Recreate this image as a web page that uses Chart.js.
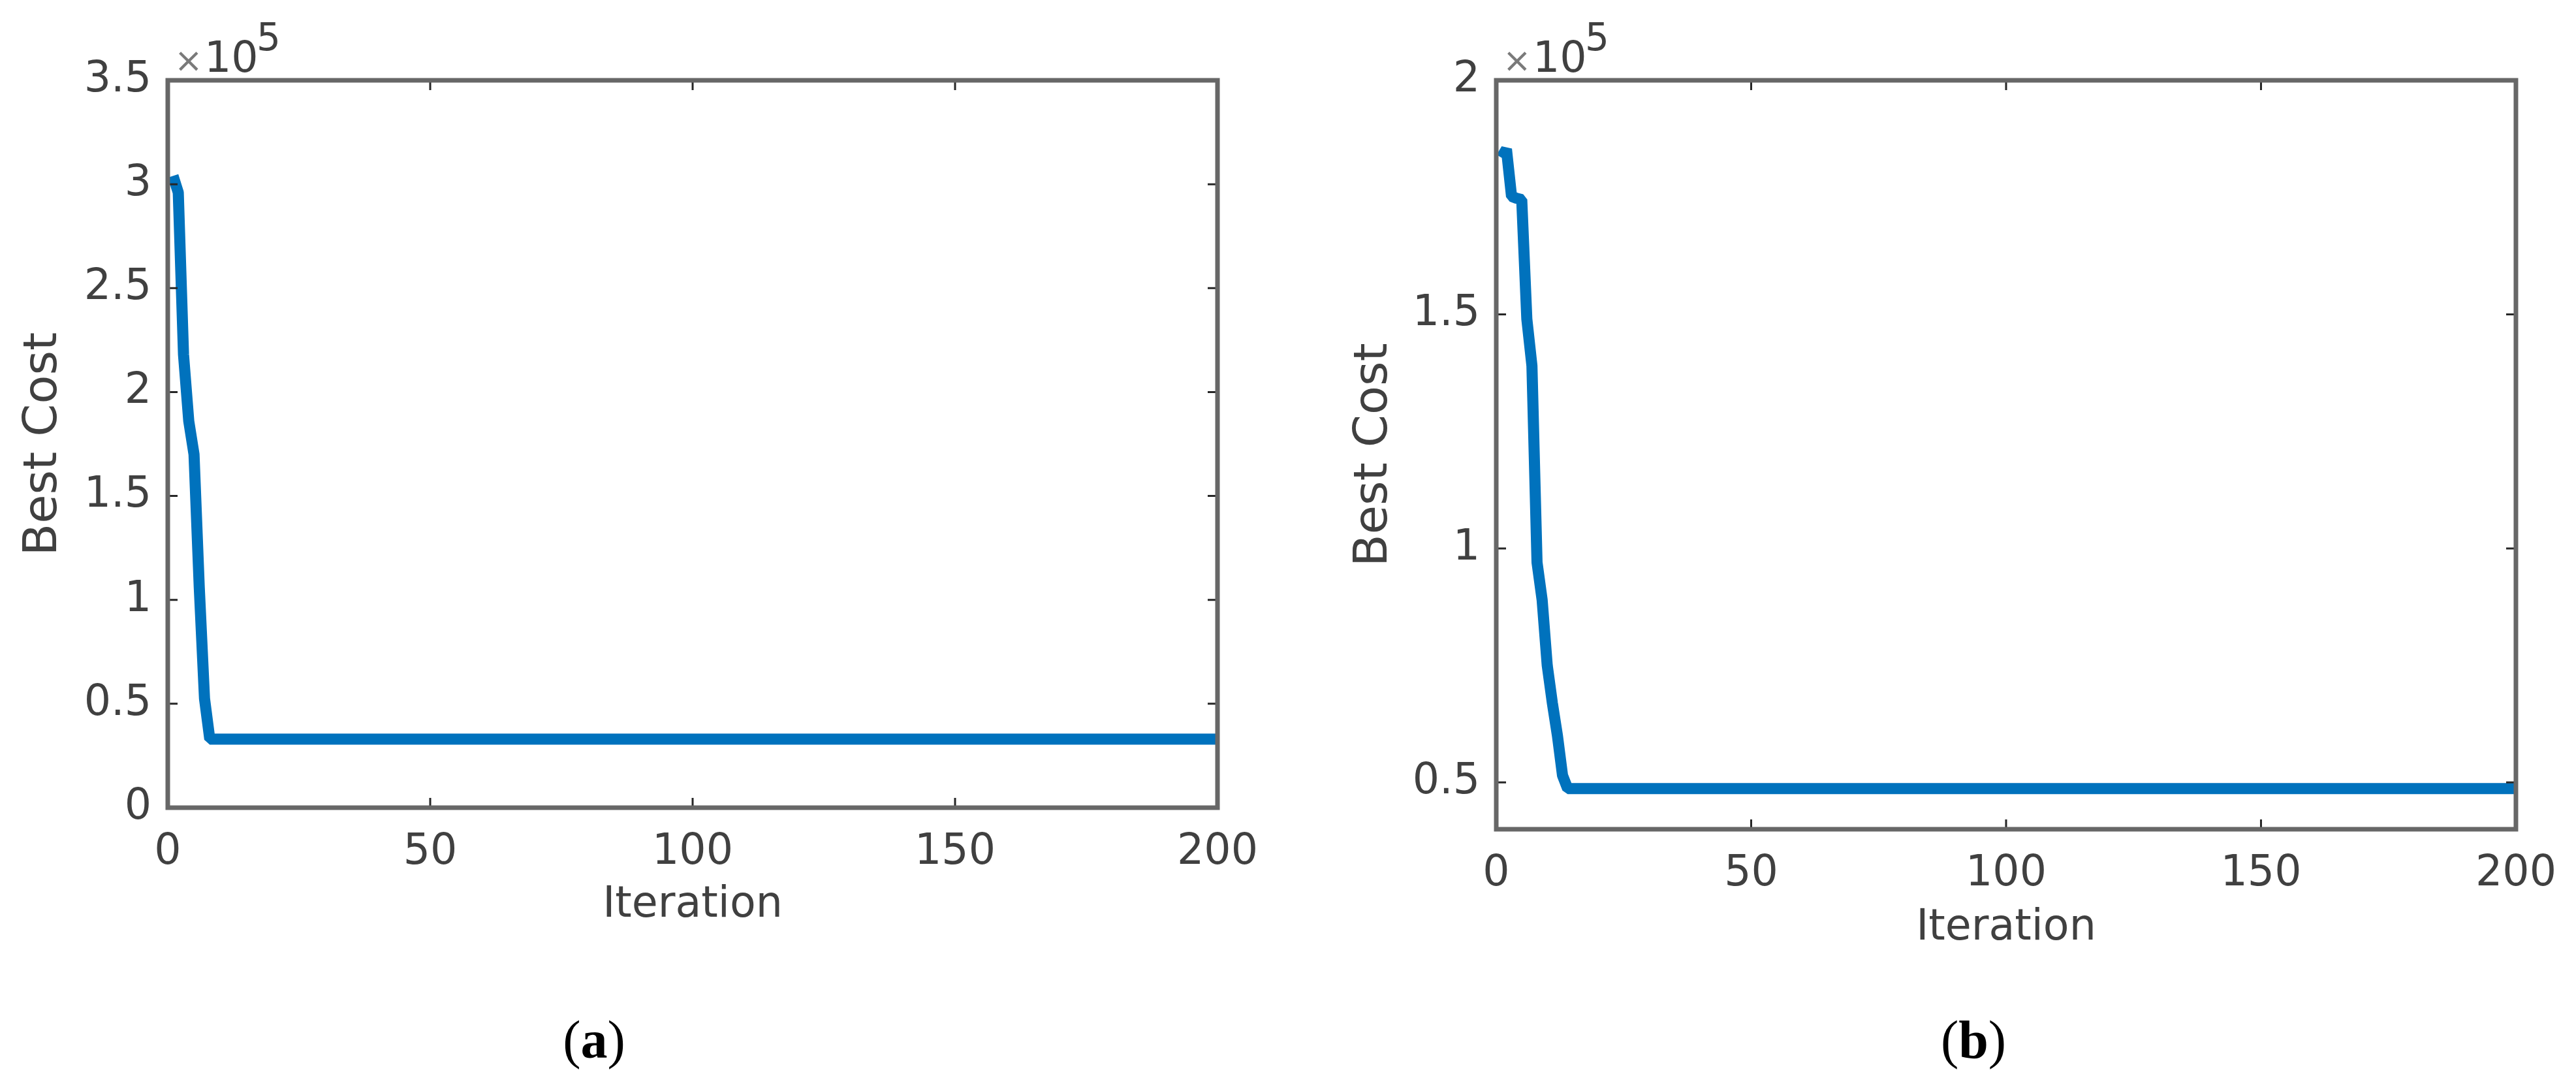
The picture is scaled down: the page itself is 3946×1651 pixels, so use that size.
<!DOCTYPE html>
<html>
<head>
<meta charset="utf-8">
<script src="https://cdn.jsdelivr.net/npm/chart.js@4.4.1/dist/chart.umd.min.js"></script>
<style>
  html, body { margin: 0; padding: 0; background: #fff; }
  body { width: 3946px; height: 1651px; position: relative; overflow: hidden; }
  canvas { position: absolute; top: 0; }
  .panel-tag {
    position: absolute;
    font-family: 'Liberation Serif', 'Times New Roman', serif;
    font-size: 82px;
    line-height: 1;
    color: #000;
    transform: translate(-50%, -50%);
  }
</style>
</head>
<body>
<canvas id="costA" width="1973" height="1651" style="left:0"></canvas>
<canvas id="costB" width="1973" height="1651" style="left:1973px"></canvas>
<div class="panel-tag" style="left:910px;top:1593px">(<b>a</b>)</div>
<div class="panel-tag" style="left:3023px;top:1593px">(<b>b</b>)</div>

<script>
// best cost per iteration, only where it changes (flat afterwards up to 200)
const iterA = [1, 2, 3, 4, 5, 6, 7, 8, 200];
const costA = [304000, 296000, 218000, 186000, 170000, 106000, 52500, 33000, 33000];

const iterB = [1, 2, 3, 4, 5, 6, 7, 8, 9, 10, 11, 12, 13, 14, 200];
const costB = [183500, 185300, 175200, 174800, 174500, 149000, 139000, 97000, 89000, 75000, 67000, 60000, 51500, 48700, 48700];

const xTicks = [0, 50, 100, 150, 200];
const yTicksA = [0, 50000, 100000, 150000, 200000, 250000, 300000, 350000];
const yTicksB = [50000, 100000, 150000, 200000];

const TEXT = '#404040';
const FONT = "'DejaVu Sans', sans-serif";

// MATLAB-like box: full frame, inward ticks on all four sides, x10^5 exponent
const matlabBox = {
    id: 'matlabBox',
    afterDatasetsDraw(chart, args, opts) {
        const { ctx, chartArea: a, scales: { x, y } } = chart;
        const len = 15;
        ctx.save();
        ctx.strokeStyle = '#262626';
        ctx.lineWidth = 3;
        ctx.beginPath();
        x.ticks.forEach(t => {
            const px = x.getPixelForValue(t.value);
            ctx.moveTo(px, a.bottom); ctx.lineTo(px, a.bottom - len);
            ctx.moveTo(px, a.top); ctx.lineTo(px, a.top + len);
        });
        y.ticks.forEach(t => {
            const py = y.getPixelForValue(t.value);
            ctx.moveTo(a.left, py); ctx.lineTo(a.left + len, py);
            ctx.moveTo(a.right, py); ctx.lineTo(a.right - len, py);
        });
        ctx.stroke();

        ctx.strokeStyle = '#676767';
        ctx.lineWidth = 7;
        ctx.strokeRect(a.left, a.top, a.right - a.left, a.bottom - a.top);

        // exponent label
        ctx.textBaseline = 'alphabetic';
        ctx.textAlign = 'left';
        ctx.fillStyle = '#7a7a7a';
        ctx.font = `52px ${FONT}`;
        ctx.fillText('\u00d7', a.left + 10, a.top - 13);
        ctx.fillStyle = TEXT;
        ctx.font = `65px ${FONT}`;
        ctx.fillText('10', a.left + 56, a.top - 13);
        ctx.font = `58px ${FONT}`;
        ctx.fillText(opts.exponent, a.left + 136, a.top - 46);
        ctx.restore();
    }
};

function makeChart(id, iters, costs, yTicks, yMin, yMax, box, titlePad) {
    const canvas = document.getElementById(id);
    const W = canvas.width, H = canvas.height;
    return new Chart(canvas, {
        type: 'line',
        data: {
            datasets: [{
                data: iters.map((it, i) => ({ x: it, y: costs[i] })),
                borderColor: '#0072BD',
                borderWidth: 17,
                borderJoinStyle: 'bevel',
                pointRadius: 0,
                tension: 0,
                fill: false
            }]
        },
        options: {
            responsive: false,
            animation: false,
            devicePixelRatio: 1,
            layout: { padding: { top: box.top, right: W - box.right, left: 0, bottom: 0 } },
            plugins: {
                legend: { display: false },
                tooltip: { enabled: false },
                matlabBox: { exponent: '5' }
            },
            scales: {
                x: {
                    type: 'linear',
                    min: 0, max: 200,
                    afterBuildTicks: s => { s.ticks = xTicks.map(v => ({ value: v })); },
                    afterFit: s => { s.height = H - box.bottom; },
                    grid: { display: false, drawTicks: false },
                    border: { display: false },
                    ticks: {
                        autoSkip: false, maxRotation: 0, padding: 30,
                        color: TEXT, font: { family: FONT, size: 65 },
                        callback: v => String(v)
                    },
                    title: {
                        display: true, text: 'Iteration', color: TEXT,
                        font: { family: FONT, size: 65 },
                        padding: { top: 0, bottom: titlePad.x }
                    }
                },
                y: {
                    type: 'linear',
                    min: yMin, max: yMax,
                    afterBuildTicks: s => { s.ticks = yTicks.map(v => ({ value: v })); },
                    afterFit: s => { s.width = box.left; },
                    grid: { display: false, drawTicks: false },
                    border: { display: false },
                    ticks: {
                        autoSkip: false, padding: 25,
                        color: TEXT, font: { family: FONT, size: 65 },
                        callback: v => String(v / 100000)
                    },
                    title: {
                        display: true, text: 'Best Cost', color: TEXT,
                        font: { family: FONT, size: 72 },
                        padding: { top: titlePad.y, bottom: 0 }
                    }
                }
            }
        },
        plugins: [matlabBox]
    });
}

makeChart('costA', iterA, costA, yTicksA, 0, 350000,
    { left: 257, right: 1865, top: 123, bottom: 1237 }, { x: 225, y: 24 });
makeChart('costB', iterB, costB, yTicksB, 40000, 200000,
    { left: 319, right: 1889, top: 123, bottom: 1270 }, { x: 190, y: 89 });
</script>
</body>
</html>
